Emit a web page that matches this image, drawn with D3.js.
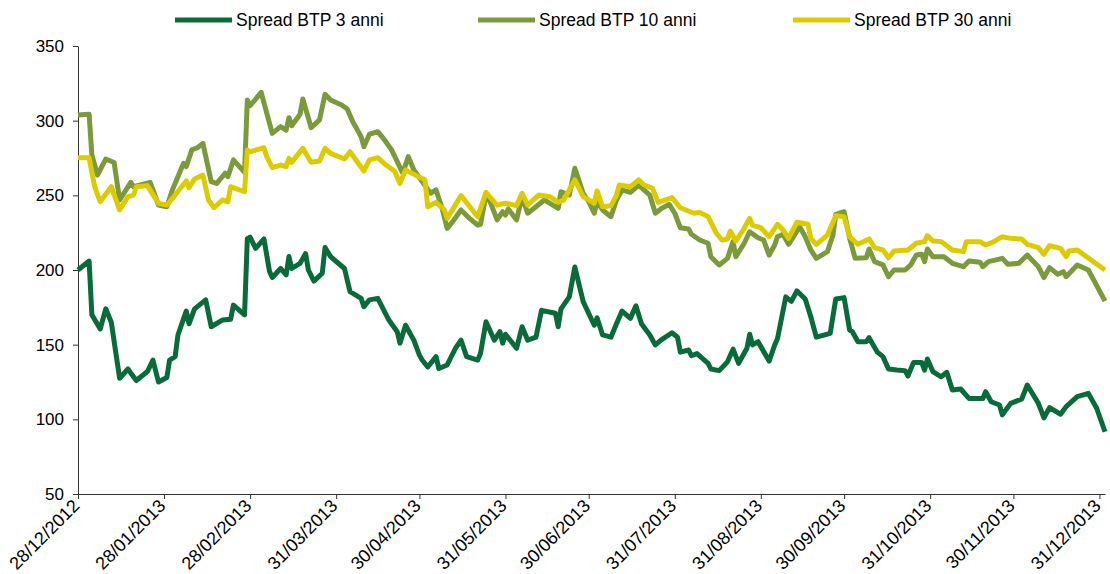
<!DOCTYPE html>
<html>
<head>
<meta charset="utf-8">
<script src="https://cdn.jsdelivr.net/npm/d3@7"></script>
<style>
  body { margin: 0; background: #fff; }
  svg { display: block; font-family: "Liberation Sans", Arial, sans-serif; }
</style>
</head>
<body>
<script>
// ---- data ----
var seriesNames = ["Spread BTP 3 anni", "Spread BTP 10 anni", "Spread BTP 30 anni"];

var dates3 = ["28/12/2012","01/01/2013","02/01/2013","05/01/2013","07/01/2013","09/01/2013","12/01/2013","15/01/2013","16/01/2013","18/01/2013","22/01/2013","24/01/2013","26/01/2013","29/01/2013","30/01/2013","01/02/2013","02/02/2013","05/02/2013","06/02/2013","08/02/2013","12/02/2013","14/02/2013","18/02/2013","21/02/2013","22/02/2013","26/02/2013","27/02/2013","28/02/2013","02/03/2013","05/03/2013","07/03/2013","08/03/2013","11/03/2013","13/03/2013","14/03/2013","15/03/2013","18/03/2013","20/03/2013","21/03/2013","23/03/2013","26/03/2013","27/03/2013","29/03/2013","03/04/2013","05/04/2013","09/04/2013","10/04/2013","12/04/2013","15/04/2013","19/04/2013","22/04/2013","23/04/2013","25/04/2013","28/04/2013","30/04/2013","01/05/2013","03/05/2013","06/05/2013","07/05/2013","10/05/2013","13/05/2013","15/05/2013","17/05/2013","21/05/2013","22/05/2013","24/05/2013","27/05/2013","29/05/2013","30/05/2013","31/05/2013","04/06/2013","06/06/2013","08/06/2013","11/06/2013","13/06/2013","18/06/2013","19/06/2013","20/06/2013","23/06/2013","25/06/2013","28/06/2013","02/07/2013","03/07/2013","05/07/2013","08/07/2013","10/07/2013","12/07/2013","15/07/2013","17/07/2013","19/07/2013","22/07/2013","24/07/2013","26/07/2013","30/07/2013","01/08/2013","02/08/2013","05/08/2013","06/08/2013","08/08/2013","12/08/2013","13/08/2013","16/08/2013","19/08/2013","21/08/2013","23/08/2013","26/08/2013","27/08/2013","28/08/2013","30/08/2013","03/09/2013","05/09/2013","06/09/2013","09/09/2013","11/09/2013","13/09/2013","16/09/2013","18/09/2013","20/09/2013","25/09/2013","27/09/2013","30/09/2013","02/10/2013","03/10/2013","05/10/2013","08/10/2013","09/10/2013","12/10/2013","14/10/2013","16/10/2013","19/10/2013","22/10/2013","23/10/2013","25/10/2013","28/10/2013","29/10/2013","30/10/2013","01/11/2013","04/11/2013","06/11/2013","08/11/2013","11/11/2013","14/11/2013","19/11/2013","20/11/2013","22/11/2013","25/11/2013","26/11/2013","29/11/2013","03/12/2013","05/12/2013","09/12/2013","11/12/2013","13/12/2013","17/12/2013","19/12/2013","23/12/2013","27/12/2013","30/12/2013","02/01/2014"];
var spread3 = [200,206,170,160.5,174,165,127.5,133.7,131,126,132,139.7,125,128,139.7,142,156.5,172.5,164,174,180,162,166.5,167,176.5,170,221,222,214.5,220.8,199,195,201,196.7,209,201,204.5,211,200,192.6,197.8,215,209,201,185.5,181,175.5,180,181,166.5,158.7,151,163,153,143,139.7,135,142,134,136.4,147.6,153,142,139.7,144,165.4,153,158.7,151,157,147.6,162,153,155,173,171,162,174,182,202,178.8,163,168,156.5,155,164,172.5,167.6,176,164,156.5,149.8,153,158,155,145,146.4,142.6,144,137.5,133.7,132.6,138.6,147,137.5,147.6,157,149.8,152,139,149.8,154,182,179,186,180.6,168.7,155,157.6,180.6,181.5,159.8,158.7,152,152,154.7,145,142,133.7,133,132.6,129,138,138,133,140.4,132,128.5,131.5,119.6,120.3,114,114,118.5,111.8,109.6,103,110.7,113.6,123,110.7,101,107.8,103.4,108.5,115.2,117.4,107.4,91.7];

var dates10 = ["28/12/2012","01/01/2013","02/01/2013","04/01/2013","07/01/2013","10/01/2013","12/01/2013","16/01/2013","17/01/2013","23/01/2013","26/01/2013","29/01/2013","31/01/2013","04/02/2013","05/02/2013","07/02/2013","09/02/2013","11/02/2013","14/02/2013","16/02/2013","19/02/2013","20/02/2013","22/02/2013","26/02/2013","27/02/2013","28/02/2013","04/03/2013","06/03/2013","08/03/2013","11/03/2013","13/03/2013","14/03/2013","15/03/2013","18/03/2013","19/03/2013","22/03/2013","25/03/2013","27/03/2013","29/03/2013","02/04/2013","04/04/2013","06/04/2013","09/04/2013","10/04/2013","12/04/2013","15/04/2013","17/04/2013","20/04/2013","24/04/2013","26/04/2013","28/04/2013","01/05/2013","04/05/2013","06/05/2013","08/05/2013","10/05/2013","12/05/2013","15/05/2013","18/05/2013","21/05/2013","22/05/2013","24/05/2013","25/05/2013","28/05/2013","30/05/2013","31/05/2013","01/06/2013","04/06/2013","06/06/2013","08/06/2013","11/06/2013","14/06/2013","19/06/2013","20/06/2013","23/06/2013","25/06/2013","28/06/2013","30/06/2013","02/07/2013","03/07/2013","05/07/2013","08/07/2013","10/07/2013","12/07/2013","15/07/2013","18/07/2013","22/07/2013","24/07/2013","26/07/2013","29/07/2013","31/07/2013","02/08/2013","05/08/2013","06/08/2013","09/08/2013","12/08/2013","13/08/2013","16/08/2013","19/08/2013","21/08/2013","22/08/2013","25/08/2013","27/08/2013","30/08/2013","01/09/2013","03/09/2013","05/09/2013","06/09/2013","08/09/2013","10/09/2013","14/09/2013","16/09/2013","18/09/2013","20/09/2013","24/09/2013","26/09/2013","27/09/2013","30/09/2013","02/10/2013","04/10/2013","08/10/2013","09/10/2013","11/10/2013","14/10/2013","16/10/2013","18/10/2013","22/10/2013","24/10/2013","26/10/2013","28/10/2013","29/10/2013","30/10/2013","01/11/2013","05/11/2013","08/11/2013","12/11/2013","14/11/2013","18/11/2013","19/11/2013","21/11/2013","26/11/2013","28/11/2013","02/12/2013","05/12/2013","09/12/2013","11/12/2013","13/12/2013","16/12/2013","18/12/2013","19/12/2013","23/12/2013","27/12/2013","02/01/2014"];
var spread10 = [303.8,304.3,277,263.6,274.3,272,246.9,258.7,255.8,258.7,243.5,242.4,253.6,271.4,269.2,280.4,281.9,284.8,259.2,258,264.8,262.5,273.7,265.4,313.8,310,319,305,291.5,296,293.7,302,296.6,304.3,314.5,295.3,300.5,317.7,313.8,310.5,307.8,299.3,289.3,282.6,290.9,292.6,288.2,280.4,264.8,275.9,267,259.2,251.4,253.6,242.4,227.9,232.4,240.2,234.6,230.1,230.6,250.2,248,233.5,239,236.8,240.9,233.5,249.1,238,242.4,246.9,241.3,252.4,250.2,268.1,251.4,245.7,238,245.7,240.2,235.7,246.9,253.6,252,256.9,250.2,238,240.9,244,238,228.3,227.5,223.9,220.1,217.9,208.9,203.4,207.8,219,208.9,217.9,225.6,221.6,220.1,210,216.7,222.3,223.9,217.2,229,222.3,213.4,207.8,212.3,223.4,237.3,239,221.2,207.8,208.2,214.1,205.6,203.4,195.5,200,200,203.4,210,210.5,205.6,214.1,208.9,208.9,204.5,202.2,206,205.2,202.2,205.6,207.8,203.8,204.5,210,202.2,194.9,201.6,197.1,198.9,195.5,203.4,200,179.2];

var dates30 = ["28/12/2012","01/01/2013","03/01/2013","05/01/2013","09/01/2013","12/01/2013","15/01/2013","17/01/2013","18/01/2013","22/01/2013","26/01/2013","29/01/2013","01/02/2013","05/02/2013","06/02/2013","08/02/2013","11/02/2013","13/02/2013","15/02/2013","18/02/2013","20/02/2013","21/02/2013","26/02/2013","27/02/2013","28/02/2013","05/03/2013","06/03/2013","08/03/2013","11/03/2013","13/03/2013","14/03/2013","15/03/2013","19/03/2013","22/03/2013","25/03/2013","27/03/2013","29/03/2013","03/04/2013","05/04/2013","10/04/2013","12/04/2013","15/04/2013","18/04/2013","21/04/2013","23/04/2013","25/04/2013","29/04/2013","02/05/2013","03/05/2013","06/05/2013","09/05/2013","10/05/2013","15/05/2013","21/05/2013","24/05/2013","28/05/2013","31/05/2013","04/06/2013","06/06/2013","08/06/2013","12/06/2013","16/06/2013","19/06/2013","21/06/2013","25/06/2013","28/06/2013","02/07/2013","03/07/2013","05/07/2013","08/07/2013","10/07/2013","11/07/2013","15/07/2013","18/07/2013","20/07/2013","23/07/2013","25/07/2013","30/07/2013","02/08/2013","04/08/2013","07/08/2013","09/08/2013","12/08/2013","15/08/2013","17/08/2013","19/08/2013","20/08/2013","22/08/2013","25/08/2013","27/08/2013","28/08/2013","31/08/2013","03/09/2013","06/09/2013","08/09/2013","10/09/2013","13/09/2013","17/09/2013","18/09/2013","20/09/2013","24/09/2013","27/09/2013","30/09/2013","02/10/2013","05/10/2013","09/10/2013","11/10/2013","14/10/2013","16/10/2013","18/10/2013","23/10/2013","26/10/2013","29/10/2013","30/10/2013","01/11/2013","04/11/2013","08/11/2013","12/11/2013","13/11/2013","18/11/2013","20/11/2013","23/11/2013","26/11/2013","29/11/2013","03/12/2013","05/12/2013","09/12/2013","11/12/2013","13/12/2013","17/12/2013","19/12/2013","20/12/2013","23/12/2013","02/01/2014"];
var spread30 = [275.2,275.2,255.8,245.7,255.8,240.2,249.1,250.2,255.8,256.5,244.6,243.5,250.2,259.6,255.1,261,263.6,246.9,241.7,246.9,245.7,255.8,252.4,280.4,279.2,281.9,275.9,268.5,270.3,269.2,274.8,272.1,281.5,272.1,273,281.5,278.1,274.3,279.2,266.3,273.7,275.2,270.3,266.3,258,267,263.2,260.3,242.4,245.3,240.2,234.6,249.8,235.7,252,243.5,244.7,243.1,251.4,243.5,250.2,249.1,245.3,246.9,260.3,249.1,244.7,253,242.4,243,250.2,256.9,255.8,260.3,256.9,254.7,245.3,248.5,241.7,240.2,238,238.6,235.7,224.6,220.1,220.8,226.1,219.4,227.9,234.6,230.1,228.3,222.3,230.6,226.8,221.2,232,230.6,221.2,217.2,223.4,236.4,235.7,222.3,217.2,220.8,215,213.4,208.2,212.7,213.4,217.9,219,223,219.4,219,213.4,212.3,219,219,216.7,219,222.3,221.2,220.8,217.2,215,210.5,216.3,214.5,208.9,212.7,213.4,200];

var yTicks = [50, 100, 150, 200, 250, 300, 350];
var xTickLabels = ["28/12/2012","28/01/2013","28/02/2013","31/03/2013","30/04/2013","31/05/2013","30/06/2013","31/07/2013","31/08/2013","30/09/2013","31/10/2013","30/11/2013","31/12/2013"];

var colors = ["#0a6b3a", "#7a9a3c", "#dccb00"];

// ---- chart ----
var w = 1110;
var h = 574;
var margin = {left: 78, right: 5, top: 46, bottom: 80};

var parse = d3.timeParse("%d/%m/%Y");
var fmt = d3.timeFormat("%d/%m/%Y");

var series = [
  {name: seriesNames[0], dates: dates3, values: spread3, color: colors[0]},
  {name: seriesNames[1], dates: dates10, values: spread10, color: colors[1]},
  {name: seriesNames[2], dates: dates30, values: spread30, color: colors[2]}
];
series.forEach(function(s) {
  s.points = s.dates.map(function(d, i) { return {date: parse(d), value: s.values[i]}; });
});

var svg = d3.select("body")
  .append("svg")
  .attr("width", w)
  .attr("height", h);

var x = d3.scaleTime()
  .domain([parse("28/12/2012"), parse("02/01/2014")])
  .range([margin.left, w - margin.right]);

var y = d3.scaleLinear()
  .domain([50, 350])
  .range([h - margin.bottom, margin.top]);

// y axis
var yAxis = svg.append("g")
  .attr("transform", "translate(" + margin.left + ",0)")
  .call(d3.axisLeft(y).tickValues(yTicks).tickSize(5).tickSizeOuter(0).tickPadding(9));
yAxis.selectAll("text").attr("font-size", "17px").attr("fill", "#000").style("font-family", "inherit");
yAxis.selectAll("line, path").attr("stroke", "#333");

// x axis
var xAxis = svg.append("g")
  .attr("transform", "translate(0," + y(50) + ")")
  .call(d3.axisBottom(x).tickValues(xTickLabels.map(parse)).tickFormat(fmt).tickSize(5).tickSizeOuter(0));
xAxis.selectAll("line, path").attr("stroke", "#333");
xAxis.selectAll("text")
  .attr("font-size", "18px")
  .attr("fill", "#000")
  .style("font-family", "inherit")
  .attr("text-anchor", "end")
  .attr("dx", null).attr("dy", null)
  .attr("x", 0)
  .attr("y", 0)
  .attr("transform", "translate(2,13) rotate(-45)");

// lines
var line = d3.line()
  .x(function(d) { return x(d.date); })
  .y(function(d) { return y(d.value); });

svg.selectAll("path.serie")
  .data(series)
  .enter()
  .append("path")
  .attr("class", "serie")
  .attr("d", function(d) { return line(d.points); })
  .attr("fill", "none")
  .attr("stroke", function(d) { return d.color; })
  .attr("stroke-width", 5)
  .attr("stroke-linejoin", "round");

// legend
var legendX = [175, 478, 793];
var legend = svg.selectAll("g.legend")
  .data(series)
  .enter()
  .append("g")
  .attr("class", "legend")
  .attr("transform", function(d, i) { return "translate(" + legendX[i] + ",20)"; });

legend.append("line")
  .attr("x1", 0).attr("x2", 57)
  .attr("y1", 0).attr("y2", 0)
  .attr("stroke", function(d) { return d.color; })
  .attr("stroke-width", 5);

legend.append("text")
  .attr("x", 61)
  .attr("y", 6)
  .attr("font-size", "17.5px")
  .attr("fill", "#000")
  .text(function(d) { return d.name; });
</script>
</body>
</html>
